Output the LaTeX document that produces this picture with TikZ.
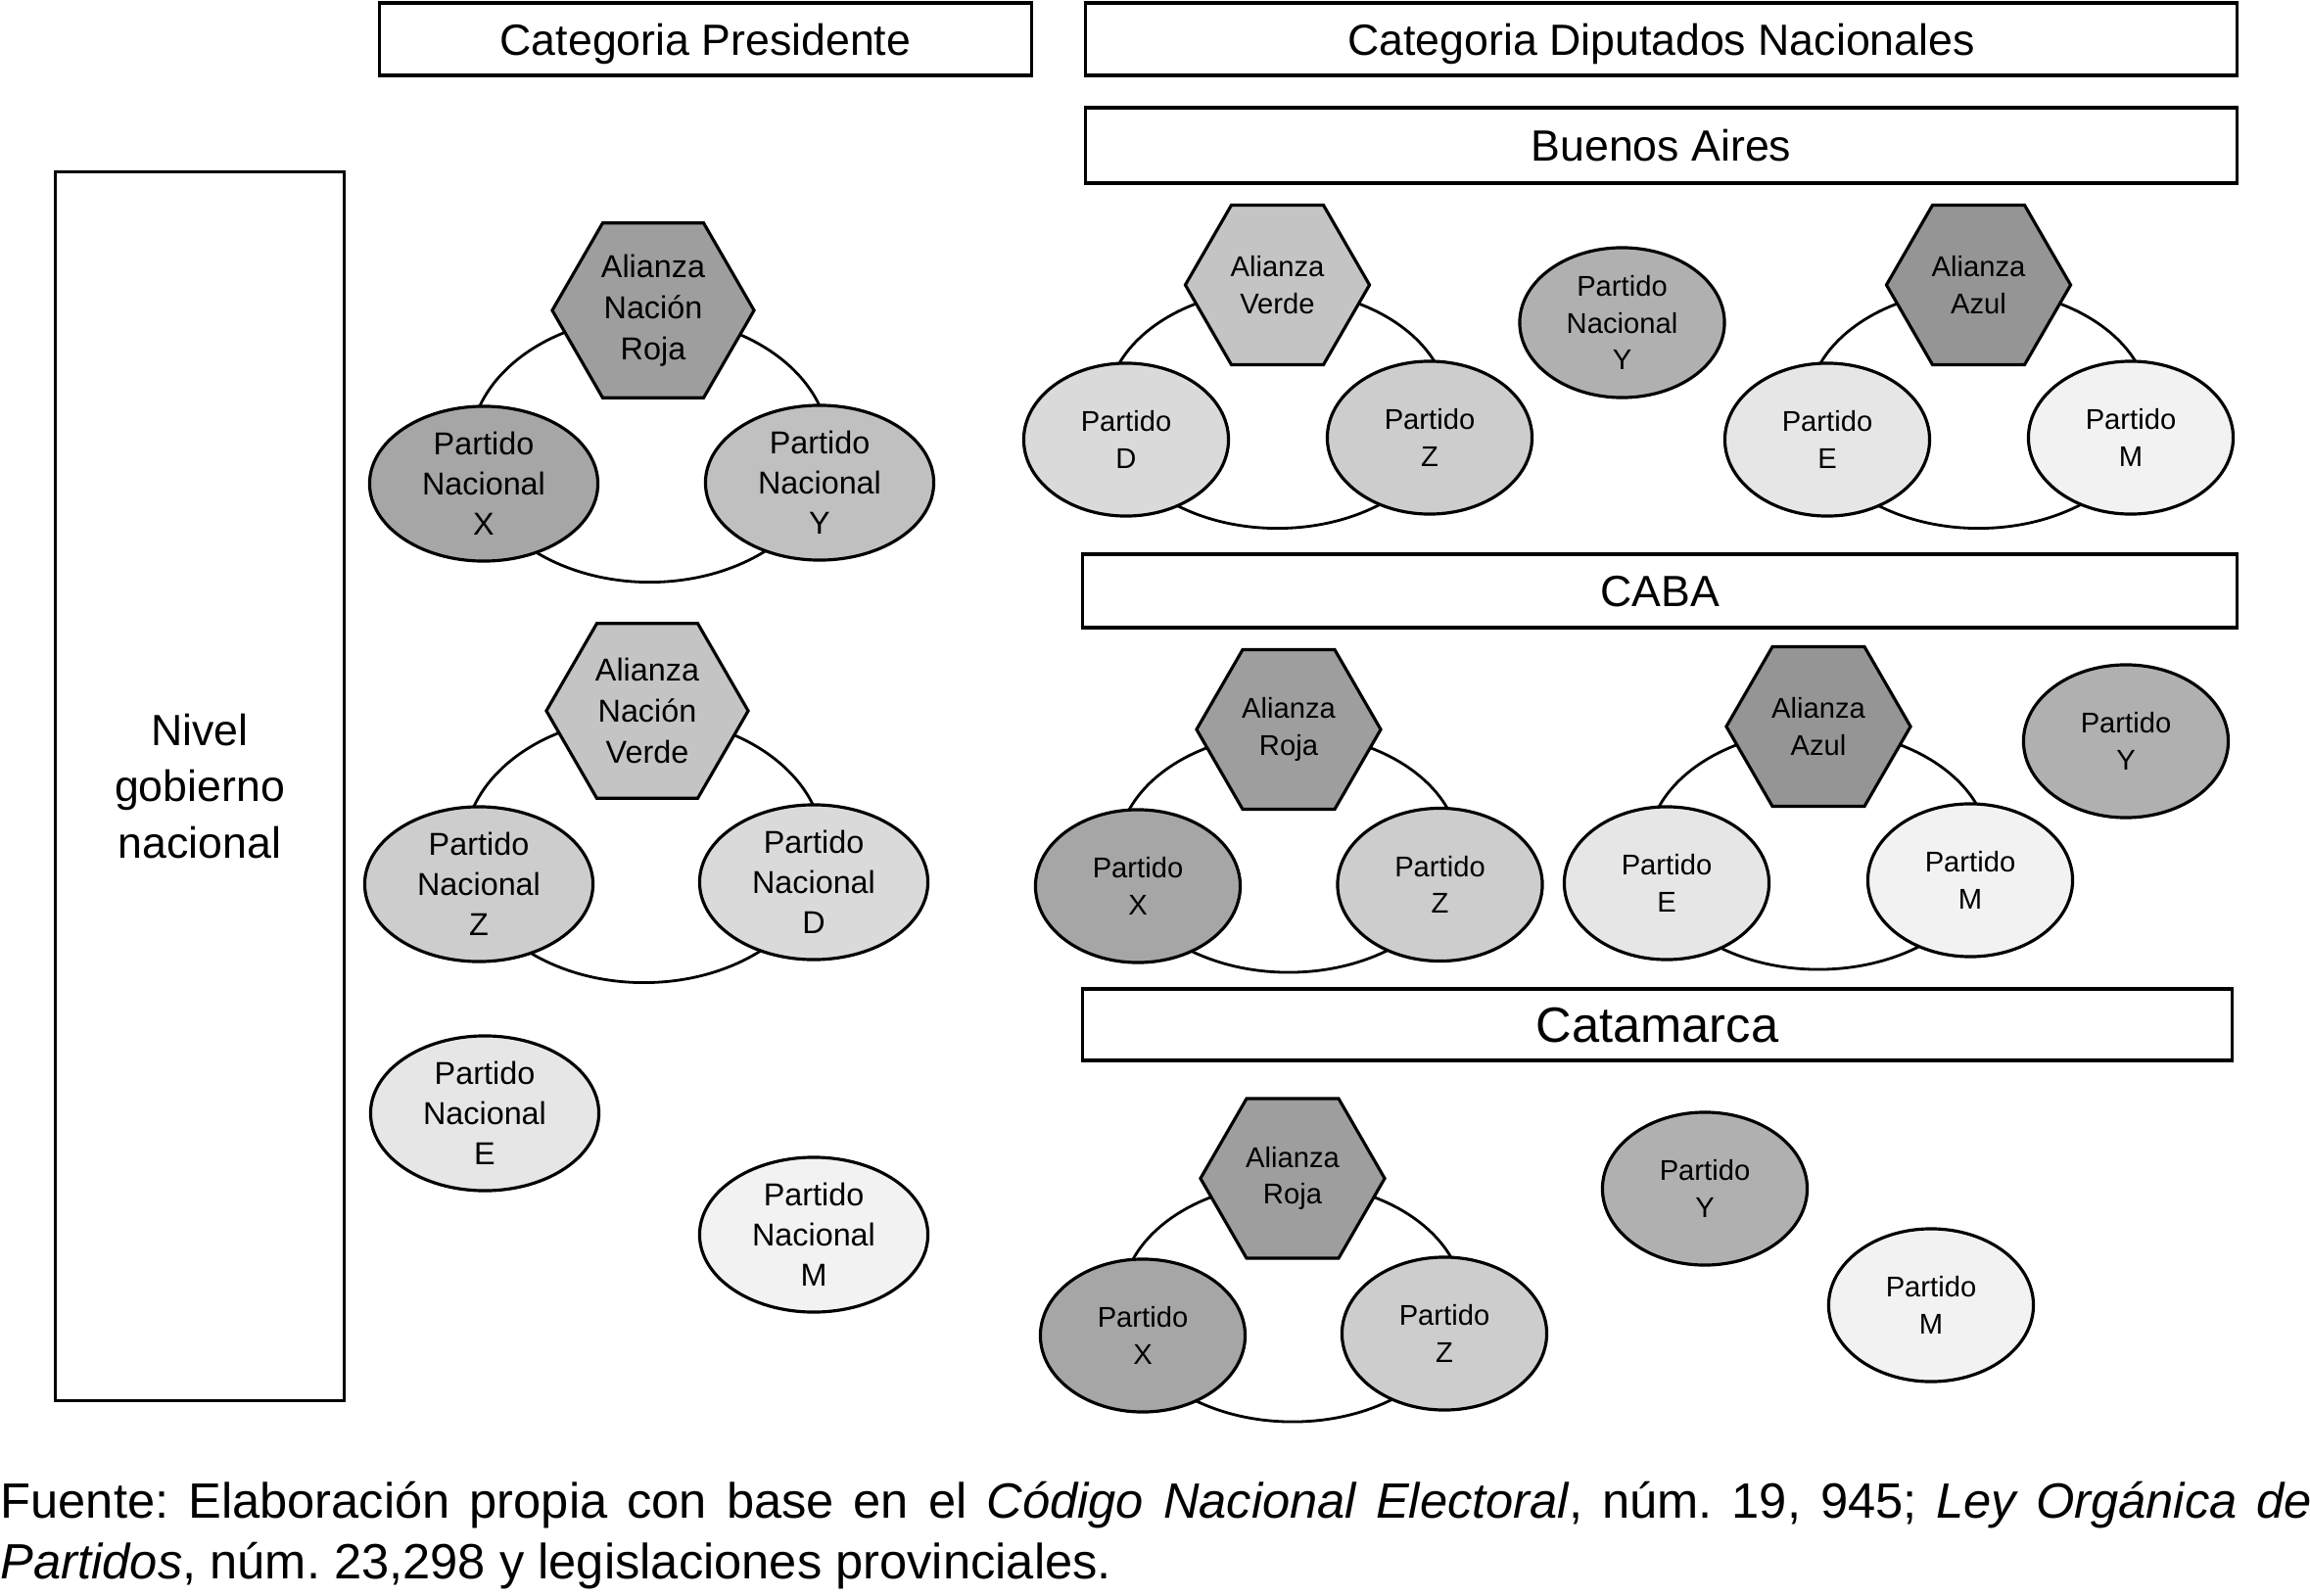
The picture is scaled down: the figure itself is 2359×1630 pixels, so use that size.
\documentclass[tikz,border=0pt]{standalone}
\usepackage{fontspec}
\setmainfont{Liberation Sans}
\usetikzlibrary{shapes.geometric}

\definecolor{alRoja}{HTML}{9E9E9E}
\definecolor{alVerde}{HTML}{C4C4C4}
\definecolor{alAzul}{HTML}{959595}
\definecolor{ptX}{HTML}{A6A6A6}
\definecolor{ptY}{HTML}{B0B0B0}
\definecolor{ptZ}{HTML}{CDCDCD}
\definecolor{ptD}{HTML}{DADADA}
\definecolor{ptE}{HTML}{E6E6E6}
\definecolor{ptM}{HTML}{F2F2F2}

\begin{document}
\begin{tikzpicture}[
  x=0.01cm, y=-0.01cm,
  box/.style={draw, line width=0.9pt, inner sep=0pt, font=\fontsize{12.7}{16.4}\selectfont},
  ring/.style={draw, ellipse, line width=0.8pt, inner sep=0pt},
  hexbig/.style={draw, regular polygon, regular polygon sides=6, minimum size=2.06cm, inner sep=0pt, line width=0.9pt, align=center, font=\fontsize{9.2}{11.9}\selectfont},
  hexsmall/.style={draw, regular polygon, regular polygon sides=6, minimum size=1.88cm, inner sep=0pt, line width=0.9pt, align=center, font=\fontsize{8.3}{10.7}\selectfont},
  partbig/.style={draw, ellipse, minimum width=2.33cm, minimum height=1.58cm, inner sep=0pt, line width=0.9pt, align=center, font=\fontsize{9.2}{11.7}\selectfont},
  partsmall/.style={draw, ellipse, minimum width=2.09cm, minimum height=1.56cm, inner sep=0pt, line width=0.9pt, align=center, font=\fontsize{8.3}{10.7}\selectfont}
]
\useasboundingbox (0,0) rectangle (2359,1630);

\node[box, text depth=0pt, minimum width=6.65cm, minimum height=0.74cm] (presTit) at (720.5,40) {Categoria Presidente};
\node[box, text depth=0pt, minimum width=11.75cm, minimum height=0.74cm] (dipTit) at (1696.5,40) {Categoria Diputados Nacionales};
\node[box, text depth=0pt, minimum width=11.75cm, minimum height=0.77cm] (baTit) at (1696.5,148.5) {Buenos Aires};
\node[box, text depth=0pt, minimum width=11.78cm, minimum height=0.75cm] (cabaTit) at (1695,603.5) {CABA};
\node[box, text depth=0pt, minimum width=11.73cm, minimum height=0.73cm, font=\fontsize{14.4}{18}\selectfont] (catTit) at (1692.5,1046.5) {Catamarca};
\node[box, minimum width=2.94cm, minimum height=12.54cm, align=center] (nivel) at (204,803) {Nivel\\gobierno\\nacional};

% presidente
\node[ring, minimum width=3.67cm, minimum height=2.71cm] (pRingA) at (663.5,459) {};
\node[hexbig, fill=alRoja] (pRoja) at (667,317) {Alianza\\Nación\\Roja};
\node[partbig, fill=ptX] (pX) at (494,494) {Partido\\Nacional\\X};
\node[partbig, fill=ptY!80!white] (pY) at (837,493) {Partido\\Nacional\\Y};

\node[ring, minimum width=3.67cm, minimum height=2.71cm] (pRingB) at (657.5,868) {};
\node[hexbig, fill=alVerde] (pVerde) at (661,726) {Alianza\\Nación\\Verde};
\node[partbig, fill=ptZ] (pZ) at (489,903) {Partido\\Nacional\\Z};
\node[partbig, fill=ptD] (pD) at (831,901) {Partido\\Nacional\\D};

\node[partbig, fill=ptE] (pE) at (495,1137) {Partido\\Nacional\\E};
\node[partbig, fill=ptM] (pM) at (831,1261) {Partido\\Nacional\\M};

% buenos aires
\node[ring, minimum width=3.49cm, minimum height=2.44cm] (baRingV) at (1304.5,417.5) {};
\node[hexsmall, fill=alVerde] (baVerde) at (1304.5,291) {Alianza\\Verde};
\node[partsmall, fill=ptD] (baD) at (1150,449) {Partido\\D};
\node[partsmall, fill=ptZ] (baZ) at (1460,447) {Partido\\Z};

\node[partsmall, minimum height=1.53cm, fill=ptY] (baY) at (1656.5,329.5) {Partido\\Nacional\\Y};

\node[ring, minimum width=3.49cm, minimum height=2.44cm] (baRingA) at (2020.5,417.5) {};
\node[hexsmall, fill=alAzul] (baAzul) at (2020.5,291) {Alianza\\Azul};
\node[partsmall, fill=ptE] (baE) at (1866,449) {Partido\\E};
\node[partsmall, fill=ptM] (baM) at (2176,447) {Partido\\M};

% caba
\node[ring, minimum width=3.49cm, minimum height=2.44cm] (caRingR) at (1316,871) {};
\node[hexsmall, fill=alRoja] (caRoja) at (1316,745) {Alianza\\Roja};
\node[partsmall, fill=ptX] (caX) at (1162,905) {Partido\\X};
\node[partsmall, fill=ptZ] (caZ) at (1470.5,903.5) {Partido\\Z};

\node[ring, minimum width=3.49cm, minimum height=2.44cm] (caRingA) at (1857,868) {};
\node[hexsmall, fill=alAzul] (caAzul) at (1857,742) {Alianza\\Azul};
\node[partsmall, fill=ptE] (caE) at (1702,902) {Partido\\E};
\node[partsmall, fill=ptM] (caM) at (2012,899) {Partido\\M};

\node[partsmall, fill=ptY] (caY) at (2171,757) {Partido\\Y};

% catamarca
\node[ring, minimum width=3.49cm, minimum height=2.44cm] (ctRing) at (1320,1330) {};
\node[hexsmall, fill=alRoja] (ctRoja) at (1320,1203.5) {Alianza\\Roja};
\node[partsmall, fill=ptX] (ctX) at (1167,1364) {Partido\\X};
\node[partsmall, fill=ptZ] (ctZ) at (1475,1362) {Partido\\Z};

\node[partsmall, fill=ptY] (ctY) at (1741,1214) {Partido\\Y};
\node[partsmall, fill=ptM] (ctM) at (1972,1333) {Partido\\M};

\node[anchor=north west, inner sep=0pt, text width=23.59cm, align=justify, font=\fontsize{14.4}{17.9}\selectfont] (fuente) at (0,1512)
  {\frenchspacing\hyphenpenalty=10000 Fuente: Elaboración propia con base en el \textit{Código Nacional Electoral}, núm. 19, 945; \textit{Ley Orgánica de}\linebreak \textit{Partidos}, núm. 23,298 y legislaciones provinciales.};
\end{tikzpicture}
\end{document}
